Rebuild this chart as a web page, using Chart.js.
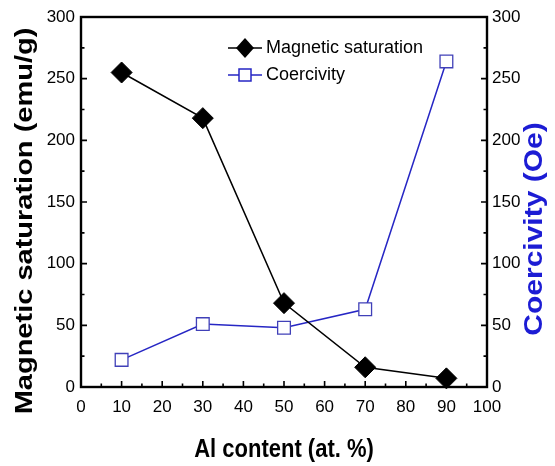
<!DOCTYPE html>
<html>
<head>
<meta charset="utf-8">
<script src="https://cdn.jsdelivr.net/npm/chart.js@4.4.1/dist/chart.umd.min.js"></script>
<style>
  html, body { margin: 0; padding: 0; background: #fff; }
</style>
</head>
<body>
<canvas id="chart" width="555" height="466"></canvas>
<script>
// data
const alContent = [10, 30, 50, 70, 90];
const magSaturation = [255, 218, 68, 16, 7];
const coercivity = [22, 51, 48, 63, 264];

const xTitle = 'Al content (at. %)';
const yLeftTitle = 'Magnetic saturation (emu/g)';
const yRightTitle = 'Coercivity (Oe)';
const legendLabels = ['Magnetic saturation', 'Coercivity'];

const FONT = "'Liberation Sans', Arial, Helvetica, sans-serif";
const BLUE = '#2626c4';
const TITLE_BLUE = '#1c1cd4';

// draws text squeezed horizontally, like the original scanned figure
function squishText(ctx, text, cx, cy, rot, sx, font, color) {
  ctx.save();
  ctx.translate(cx, cy);
  ctx.scale(sx, 1);
  ctx.rotate(rot);
  ctx.font = font;
  ctx.fillStyle = color;
  ctx.textAlign = 'center';
  ctx.textBaseline = 'middle';
  ctx.fillText(text, 0, 0);
  ctx.restore();
}

// frame, inward ticks, titles and in-plot legend
const framePlugin = {
  id: 'frame',
  beforeDatasetsDraw(chart) {
    const { ctx, chartArea: a } = chart;
    const x = chart.scales.x, y = chart.scales.y, y1 = chart.scales.y1;
    ctx.save();
    ctx.strokeStyle = '#000';
    ctx.lineWidth = 1.6;
    ctx.beginPath();
    for (let v = 0; v <= 100; v += 5) {
      const px = x.getPixelForValue(v);
      const len = v % 10 === 0 ? 6 : 3.5;
      ctx.moveTo(px, a.bottom);
      ctx.lineTo(px, a.bottom - len);
    }
    for (let v = 0; v <= 300; v += 25) {
      const len = v % 50 === 0 ? 6 : 3.5;
      const py = y.getPixelForValue(v);
      ctx.moveTo(a.left, py);
      ctx.lineTo(a.left + len, py);
      const py1 = y1.getPixelForValue(v);
      ctx.moveTo(a.right, py1);
      ctx.lineTo(a.right - len, py1);
    }
    ctx.stroke();
    ctx.lineWidth = 2.4;
    ctx.strokeRect(a.left, a.top, a.right - a.left, a.bottom - a.top);
    ctx.restore();
  },
  afterDraw(chart) {
    const { ctx, chartArea: a } = chart;
    const midX = (a.left + a.right) / 2;
    squishText(ctx, xTitle, midX, 450, 0, 0.88, 'bold 25px ' + FONT, '#000');
    squishText(ctx, yLeftTitle, 25, 221, -Math.PI / 2, 0.85, 'bold 29px ' + FONT, '#000');
    squishText(ctx, yRightTitle, 535, 229, -Math.PI / 2, 0.85, 'bold 30px ' + FONT, TITLE_BLUE);

    // legend
    ctx.save();
    const lx0 = 228, lx1 = 262, mx = 245;
    const rows = [48, 75];
    ctx.lineWidth = 1.5;
    ctx.strokeStyle = '#000';
    ctx.beginPath();
    ctx.moveTo(lx0, rows[0]); ctx.lineTo(lx1, rows[0]);
    ctx.stroke();
    ctx.fillStyle = '#000';
    ctx.beginPath();
    ctx.moveTo(mx, rows[0] - 10); ctx.lineTo(mx + 9, rows[0]);
    ctx.lineTo(mx, rows[0] + 10); ctx.lineTo(mx - 9, rows[0]);
    ctx.closePath();
    ctx.fill();

    ctx.strokeStyle = BLUE;
    ctx.beginPath();
    ctx.moveTo(lx0, rows[1]); ctx.lineTo(mx - 6, rows[1]);
    ctx.moveTo(mx + 6, rows[1]); ctx.lineTo(lx1, rows[1]);
    ctx.stroke();
    ctx.fillStyle = '#fff';
    ctx.fillRect(mx - 6, rows[1] - 6, 12, 12);
    ctx.strokeRect(mx - 6, rows[1] - 6, 12, 12);

    ctx.fillStyle = '#000';
    ctx.font = '18px ' + FONT;
    ctx.textBaseline = 'middle';
    ctx.textAlign = 'left';
    ctx.fillText(legendLabels[0], 266, rows[0]);
    ctx.fillText(legendLabels[1], 266, rows[1]);
    ctx.restore();
  }
};

const tickFont = { family: FONT, size: 17 };

new Chart(document.getElementById('chart'), {
  type: 'line',
  data: {
    datasets: [
      {
        label: legendLabels[0],
        data: alContent.map((v, i) => ({ x: v, y: magSaturation[i] })),
        yAxisID: 'y',
        borderColor: '#000',
        borderWidth: 1.5,
        pointStyle: 'rectRot',
        pointRadius: 10.5,
        pointBackgroundColor: '#000',
        pointBorderColor: '#000',
        pointBorderWidth: 1,
        clip: false
      },
      {
        label: legendLabels[1],
        data: alContent.map((v, i) => ({ x: v, y: coercivity[i] })),
        yAxisID: 'y1',
        borderColor: BLUE,
        borderWidth: 1.5,
        pointStyle: 'rect',
        pointRadius: 9,
        pointBackgroundColor: '#fff',
        pointBorderColor: '#4040b8',
        pointBorderWidth: 1.3,
        clip: false
      }
    ]
  },
  options: {
    responsive: false,
    animation: false,
    devicePixelRatio: 1,
    layout: { padding: { top: 17, left: 0, right: 0, bottom: 0 } },
    plugins: {
      legend: { display: false },
      tooltip: { enabled: false }
    },
    scales: {
      x: {
        type: 'linear',
        min: 0,
        max: 100,
        ticks: { stepSize: 10, color: '#000', font: tickFont, padding: 10, maxRotation: 0 },
        grid: { display: false, drawTicks: false },
        border: { display: false },
        afterFit(s) { s.height = 79; }
      },
      y: {
        position: 'left',
        min: 0,
        max: 300,
        ticks: { stepSize: 50, color: '#000', font: tickFont, padding: 6 },
        grid: { display: false, drawTicks: false },
        border: { display: false },
        afterFit(s) { s.width = 81; }
      },
      y1: {
        position: 'right',
        min: 0,
        max: 300,
        ticks: { stepSize: 50, color: '#000', font: tickFont, padding: 5 },
        grid: { display: false, drawTicks: false },
        border: { display: false },
        afterFit(s) { s.width = 68; }
      }
    }
  },
  plugins: [framePlugin]
});
</script>
</body>
</html>
